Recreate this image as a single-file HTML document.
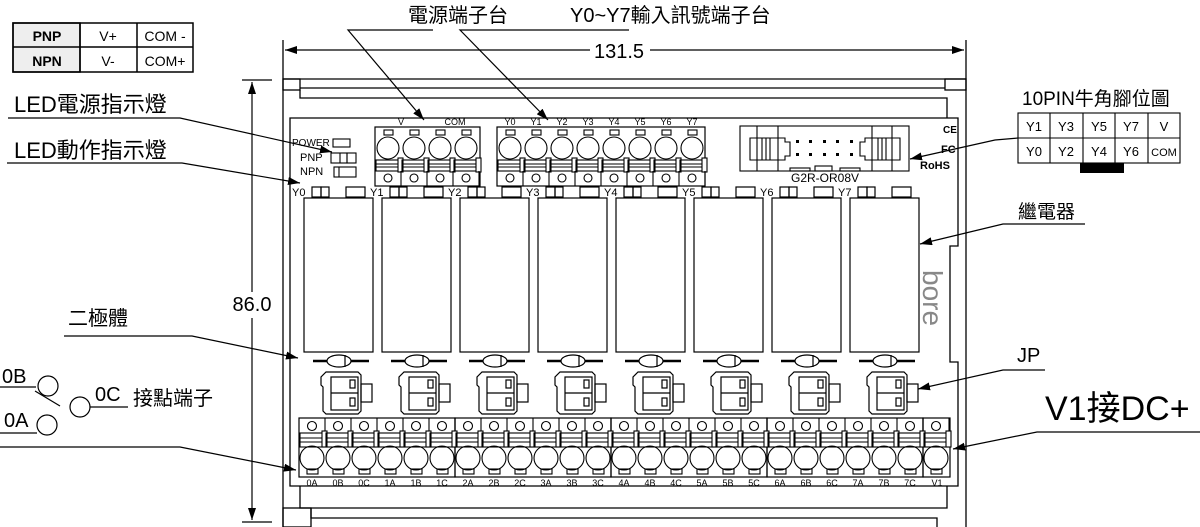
<!DOCTYPE html>
<html><head><meta charset="utf-8"><style>
html,body{margin:0;padding:0;background:#fff}
svg{display:block}
text{font-family:"Liberation Sans","Noto Sans CJK TC",sans-serif;fill:#000}
</style></head><body>
<svg width="1200" height="527" viewBox="0 0 1200 527" xmlns="http://www.w3.org/2000/svg">
<defs>
<marker id="ar" markerWidth="12" markerHeight="8" refX="12" refY="4" orient="auto" markerUnits="userSpaceOnUse"><path d="M0,0 L12,4 L0,8 z" fill="#000"/></marker>
<g id="unit" fill="none" stroke="#000" stroke-width="1.2">
 <rect x="8" y="187" width="9" height="10"/><rect x="17" y="187" width="8" height="10"/>
 <rect x="42" y="187" width="19" height="10"/>
 <rect x="0" y="198" width="69" height="154"/>
 <line x1="9" y1="361" x2="65" y2="361" stroke-width="2.5"/>
 <ellipse cx="35" cy="361" rx="12" ry="6" fill="#fff"/>
 <line x1="41" y1="355" x2="41" y2="367"/>
 <path d="M22,372 H54 L57,375 V411 L54,414 H22 L19,411 V387 L17,385 V377 Z"/>
 <rect x="27" y="377" width="27" height="33"/><line x1="27" y1="393" x2="54" y2="393"/>
 <rect x="46" y="380" width="5" height="8"/><rect x="46" y="398" width="5" height="8"/>
 <rect x="57" y="384" width="11" height="18"/>
</g>
<g id="bt" fill="none" stroke="#000" stroke-width="1.1">
 <circle cx="13" cy="426" r="4.5"/>
 <line x1="26" y1="418" x2="26" y2="437"/>
 <rect x="1" y="433" width="24" height="14"/><line x1="1" y1="438" x2="25" y2="438"/><line x1="1" y1="442" x2="25" y2="442"/>
 <rect x="23" y="431" width="5" height="16" fill="#fff"/>
 <circle cx="13" cy="458" r="12"/>
 <rect x="8" y="469" width="11" height="5"/>
</g>
<g id="tt" fill="none" stroke="#000" stroke-width="1.1">
 <rect x="9" y="130" width="9" height="5"/>
 <circle cx="13" cy="148" r="11"/>
 <rect x="1" y="160" width="24" height="11"/><line x1="1" y1="164" x2="25" y2="164"/><line x1="1" y1="167" x2="25" y2="167"/>
 <rect x="23" y="158" width="5" height="14" fill="#fff"/>
 <line x1="26" y1="171" x2="26" y2="186"/>
 <circle cx="13" cy="178" r="4"/>
</g>
</defs>

<!-- table -->
<g stroke="#000" stroke-width="1.5" fill="none">
<rect x="13" y="23" width="67" height="49" fill="#eee"/>
<rect x="13" y="23" width="180" height="49"/>
<line x1="13" y1="47" x2="193" y2="47"/><line x1="80" y1="23" x2="80" y2="72"/><line x1="137" y1="23" x2="137" y2="72"/>
</g>
<g font-size="14">
<text x="47" y="41" text-anchor="middle" font-weight="bold">PNP</text>
<text x="47" y="66" text-anchor="middle" font-weight="bold">NPN</text>
<text x="108" y="41" text-anchor="middle">V+</text>
<text x="108" y="66" text-anchor="middle">V-</text>
<text x="165" y="41" text-anchor="middle">COM -</text>
<text x="165" y="66" text-anchor="middle">COM+</text>
</g>

<!-- frame -->
<g fill="none" stroke="#000" stroke-width="1.3">
<line x1="283" y1="40" x2="283" y2="527"/><line x1="966" y1="40" x2="966" y2="527"/>
<rect x="283" y="79" width="17" height="11"/><rect x="945" y="79" width="21" height="11"/>
<line x1="283" y1="79" x2="966" y2="79"/>
<line x1="300" y1="88" x2="945" y2="88"/>
<path d="M300,90 V98 H947 V118"/>
<path d="M290,118 H958 V246 H950 V362 H958 V486 H290 Z"/>
<path d="M300,486 V508 H947 V486"/>
<path d="M311,508 V518 H937 V527"/>
<rect x="283" y="508" width="28" height="19"/>
</g>
<!-- dimensions -->
<g stroke="#000" stroke-width="1.2">
<line x1="285" y1="50" x2="590" y2="50"/>
<line x1="650" y1="50" x2="964" y2="50"/>
<line x1="242" y1="80" x2="272" y2="80"/><line x1="242" y1="522" x2="272" y2="522"/>
<line x1="252" y1="82" x2="252" y2="292"/>
<line x1="252" y1="318" x2="252" y2="520"/>
</g>
<path d="M285,50 l12,-4 v8z M964,50 l-12,-4 v8z M252,82 l-4,12 h8z M252,520 l-4,-12 h8z" fill="#000"/>
<text x="619" y="58" font-size="20" text-anchor="middle">131.5</text>
<text x="252" y="311" font-size="20" text-anchor="middle">86.0</text>

<!-- units -->
<use href="#unit" x="304"/><use href="#unit" x="382"/><use href="#unit" x="460"/><use href="#unit" x="538"/>
<use href="#unit" x="616"/><use href="#unit" x="694"/><use href="#unit" x="772"/><use href="#unit" x="850"/>
<g font-size="11">
<text x="292" y="196">Y0</text><text x="370" y="196">Y1</text><text x="448" y="196">Y2</text><text x="526" y="196">Y3</text>
<text x="604" y="196">Y4</text><text x="682" y="196">Y5</text><text x="760" y="196">Y6</text><text x="838" y="196">Y7</text>
</g>

<!-- LED area -->
<g fill="none" stroke="#000" stroke-width="1.1">
<rect x="333" y="139" width="17" height="8"/>
<rect x="331" y="153" width="16" height="10"/><line x1="340" y1="153" x2="340" y2="163"/><rect x="347" y="153" width="9" height="10"/>
<rect x="334" y="167" width="22" height="10"/><line x1="339" y1="167" x2="339" y2="177"/>
</g>
<text x="292" y="146" font-size="10">POWER</text>
<text x="300" y="161" font-size="11">PNP</text>
<text x="300" y="175" font-size="11">NPN</text>

<!-- top terminals -->
<rect x="375" y="127" width="105" height="59" fill="none" stroke="#000" stroke-width="1.2"/>
<use href="#tt" x="375"/><use href="#tt" x="401"/><use href="#tt" x="427"/><use href="#tt" x="453"/>
<rect x="497" y="127" width="208" height="59" fill="none" stroke="#000" stroke-width="1.2"/>
<use href="#tt" x="497"/><use href="#tt" x="523"/><use href="#tt" x="549"/><use href="#tt" x="575"/>
<use href="#tt" x="601"/><use href="#tt" x="627"/><use href="#tt" x="653"/><use href="#tt" x="679"/>
<g font-size="9" text-anchor="middle">
<text x="401" y="125">V</text><text x="455" y="125">COM</text>
<text x="510" y="125">Y0</text><text x="536" y="125">Y1</text><text x="562" y="125">Y2</text><text x="588" y="125">Y3</text>
<text x="614" y="125">Y4</text><text x="640" y="125">Y5</text><text x="666" y="125">Y6</text><text x="692" y="125">Y7</text>
</g>

<!-- connector -->
<g fill="none" stroke="#000" stroke-width="1.1">
<rect x="740" y="126" width="169" height="45"/>
<line x1="757" y1="126" x2="757" y2="171"/><line x1="778" y1="126" x2="778" y2="171"/>
<line x1="872" y1="126" x2="872" y2="171"/><line x1="892" y1="126" x2="892" y2="171"/>
<path d="M750,138 H785 V142 H790 V156 H785 V160 H750 Z"/>
<line x1="762" y1="138" x2="762" y2="160"/><line x1="766" y1="138" x2="766" y2="160"/><line x1="770" y1="138" x2="770" y2="160"/>
<path d="M900,138 H865 V142 H860 V156 H865 V160 H900 Z"/>
<line x1="878" y1="138" x2="878" y2="160"/><line x1="882" y1="138" x2="882" y2="160"/><line x1="886" y1="138" x2="886" y2="160"/>
<rect x="790" y="168" width="20" height="3"/><rect x="815" y="166" width="17" height="5"/><rect x="840" y="168" width="20" height="3"/>
</g>
<g fill="#000">
<rect x="796" y="140" width="3" height="3"/><rect x="809" y="140" width="3" height="3"/><rect x="823" y="140" width="3" height="3"/><rect x="836" y="140" width="3" height="3"/><rect x="850" y="140" width="3" height="3"/>
<rect x="796" y="153" width="3" height="3"/><rect x="809" y="153" width="3" height="3"/><rect x="823" y="153" width="3" height="3"/><rect x="836" y="153" width="3" height="3"/><rect x="850" y="153" width="3" height="3"/>
</g>
<text x="825" y="182" font-size="12" text-anchor="middle">G2R-OR08V</text>
<text x="943" y="133" font-size="10" font-weight="bold">CE</text>
<text x="941" y="153" font-size="11" font-weight="bold">FC</text>
<text x="920" y="169" font-size="11" font-weight="bold">RoHS</text>
<text transform="translate(923,270) rotate(90)" font-size="28" style="fill:#888">bore</text>

<!-- bottom terminals -->
<g fill="none" stroke="#000" stroke-width="1.2">
<rect x="299" y="418" width="156" height="59"/><rect x="455" y="418" width="156" height="59"/>
<rect x="611" y="418" width="156" height="59"/><rect x="767" y="418" width="156" height="59"/><rect x="923" y="418" width="27" height="59"/>
</g>
<use href="#bt" x="299"/><use href="#bt" x="325"/><use href="#bt" x="351"/><use href="#bt" x="377"/><use href="#bt" x="403"/><use href="#bt" x="429"/>
<use href="#bt" x="455"/><use href="#bt" x="481"/><use href="#bt" x="507"/><use href="#bt" x="533"/><use href="#bt" x="559"/><use href="#bt" x="585"/>
<use href="#bt" x="611"/><use href="#bt" x="637"/><use href="#bt" x="663"/><use href="#bt" x="689"/><use href="#bt" x="715"/><use href="#bt" x="741"/>
<use href="#bt" x="767"/><use href="#bt" x="793"/><use href="#bt" x="819"/><use href="#bt" x="845"/><use href="#bt" x="871"/><use href="#bt" x="897"/>
<use href="#bt" x="923"/>
<g font-size="9" text-anchor="middle">
<text x="312" y="486">0A</text><text x="338" y="486">0B</text><text x="364" y="486">0C</text><text x="390" y="486">1A</text><text x="416" y="486">1B</text><text x="442" y="486">1C</text>
<text x="468" y="486">2A</text><text x="494" y="486">2B</text><text x="520" y="486">2C</text><text x="546" y="486">3A</text><text x="572" y="486">3B</text><text x="598" y="486">3C</text>
<text x="624" y="486">4A</text><text x="650" y="486">4B</text><text x="676" y="486">4C</text><text x="702" y="486">5A</text><text x="728" y="486">5B</text><text x="754" y="486">5C</text>
<text x="780" y="486">6A</text><text x="806" y="486">6B</text><text x="832" y="486">6C</text><text x="858" y="486">7A</text><text x="884" y="486">7B</text><text x="910" y="486">7C</text>
<text x="937" y="486">V1</text>
</g>

<!-- leaders -->
<g fill="none" stroke="#000" stroke-width="1.2">
<polyline points="433,30 348,30 424,120" marker-end="url(#ar)"/>
<polyline points="629,30 460,30 548,120" marker-end="url(#ar)"/>
<polyline points="8,118 180,118 332,152" marker-end="url(#ar)"/>
<polyline points="7,163 182,163 300,183" marker-end="url(#ar)"/>
<polyline points="64,336 192,336 298,358" marker-end="url(#ar)"/>
<polyline points="0,447 180,447 296,470" marker-end="url(#ar)"/>
<polyline points="1085,224 1003,224 920,244" marker-end="url(#ar)"/>
<polyline points="1045,370 1003,370 918,389" marker-end="url(#ar)"/>
<polyline points="1200,432 1037,432 953,449" marker-end="url(#ar)"/>
<polyline points="1018,138 995,140 910,159" marker-end="url(#ar)"/>
<line x1="0" y1="387" x2="36" y2="387"/>
<circle cx="48" cy="386" r="10"/>
<line x1="35" y1="391" x2="60" y2="406"/>
<circle cx="80" cy="407" r="10"/>
<line x1="90" y1="407" x2="128" y2="407"/>
<line x1="0" y1="433" x2="37" y2="433"/>
<circle cx="47" cy="425" r="10"/>
</g>
<g font-size="22">
<text x="14" y="112">LED電源指示燈</text>
<text x="14" y="158">LED動作指示燈</text>
<text x="68" y="325" font-size="20">二極體</text>
<text x="2" y="383" font-size="20">0B</text>
<text x="95" y="401" font-size="20">0C</text>
<text x="133" y="405" font-size="20">接點端子</text>
<text x="4" y="427" font-size="20">0A</text>
<text x="408" y="22" font-size="20">電源端子台</text>
<text x="570" y="22" font-size="20">Y0~Y7輸入訊號端子台</text>
<text x="1018" y="218" font-size="19">繼電器</text>
<text x="1017" y="362" font-size="20">JP</text>
<text x="1045" y="420" font-size="34">V1接DC+</text>
<text x="1022" y="105" font-size="19">10PIN牛角腳位圖</text>
</g>
<!-- pin table -->
<g fill="none" stroke="#000" stroke-width="1.1">
<rect x="1018" y="113" width="162" height="50"/>
<line x1="1018" y1="138" x2="1180" y2="138"/>
<line x1="1050" y1="113" x2="1050" y2="163"/><line x1="1083" y1="113" x2="1083" y2="163"/><line x1="1115" y1="113" x2="1115" y2="163"/><line x1="1148" y1="113" x2="1148" y2="163"/>
</g>
<rect x="1080" y="163" width="44" height="10" fill="#000"/>
<g font-size="13" text-anchor="middle">
<text x="1034" y="131">Y1</text><text x="1066" y="131">Y3</text><text x="1099" y="131">Y5</text><text x="1131" y="131">Y7</text><text x="1164" y="131">V</text>
<text x="1034" y="156">Y0</text><text x="1066" y="156">Y2</text><text x="1099" y="156">Y4</text><text x="1131" y="156">Y6</text><text x="1164" y="156" font-size="11">COM</text>
</g>
</svg>
</body></html>
